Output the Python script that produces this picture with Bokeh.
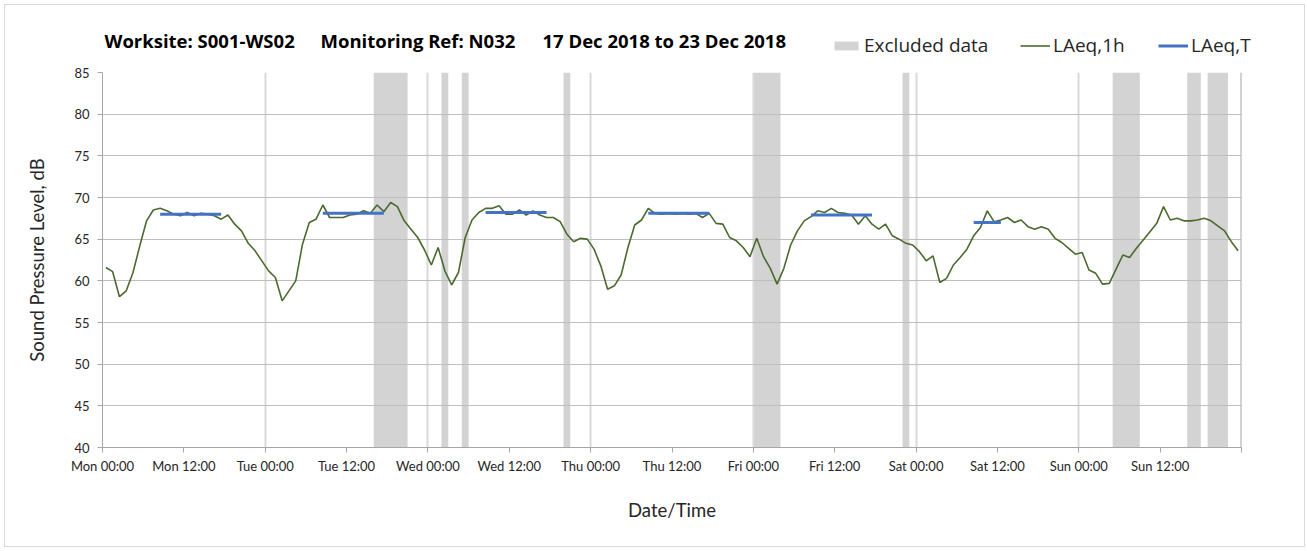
from bokeh.plotting import figure
from bokeh.layouts import column
from bokeh.models import (ColumnDataSource, FixedTicker, Legend, LegendItem,
                          Label, Span, Range1d)
from bokeh.embed import file_html
from bokeh.resources import INLINE

# ---------------- data ----------------
title_parts = ["Worksite: S001-WS02", "Monitoring Ref: N032",
               "17 Dec 2018 to 23 Dec 2018"]

# hourly LAeq,1h (dB); hour 0 = Mon 17 Dec 2018 00:00-01:00
laeq_mon = [61.6, 61.1, 58.1, 58.8, 61.0, 64.2, 67.2, 68.5, 68.7, 68.4, 68.0, 67.8,
            68.2, 67.8, 68.1, 68.0, 67.8, 67.4, 67.9, 66.8, 66.0, 64.5, 63.6, 62.4]
laeq_tue = [61.2, 60.4, 57.6, 58.8, 60.0, 64.4, 67.0, 67.4, 69.1, 67.6, 67.6, 67.6,
            67.9, 68.0, 68.4, 68.1, 69.1, 68.3, 69.4, 68.9, 67.2, 66.2, 65.2, 63.7]
laeq_wed = [61.9, 64.0, 61.2, 59.5, 61.0, 65.2, 67.3, 68.2, 68.7, 68.7, 69.0, 68.0,
            68.0, 68.5, 67.9, 68.4, 67.9, 67.6, 67.6, 67.1, 65.6, 64.7, 65.1, 65.0]
laeq_thu = [63.8, 61.8, 59.0, 59.4, 60.7, 64.0, 66.7, 67.3, 68.7, 68.1, 68.0, 68.1,
            68.0, 68.1, 68.0, 68.1, 67.6, 68.1, 66.9, 66.8, 65.2, 64.8, 64.0, 62.9]
laeq_fri = [65.1, 62.9, 61.5, 59.6, 61.5, 64.3, 66.0, 67.2, 67.7, 68.4, 68.2, 68.7,
            68.2, 68.1, 67.9, 66.8, 67.8, 66.8, 66.2, 66.8, 65.4, 65.0, 64.5, 64.3]
laeq_sat = [63.5, 62.4, 63.0, 59.8, 60.3, 61.9, 62.8, 63.8, 65.4, 66.4, 68.4, 67.1,
            67.3, 67.6, 67.0, 67.3, 66.5, 66.2, 66.5, 66.2, 65.1, 64.6, 63.9, 63.2]
laeq_sun = [63.4, 61.3, 60.9, 59.6, 59.7, 61.4, 63.1, 62.8, 63.9, 64.9, 65.9, 66.9,
            68.9, 67.3, 67.5, 67.2, 67.2, 67.3, 67.5, 67.2, 66.6, 66.0, 64.7, 63.6]

# excluded periods (hours from Mon 00:00)
excl_start_h = [40, 50, 53, 68, 96, 118, 149, 160, 163]
excl_end_h = [45, 51, 54, 69, 100, 119, 153, 162, 166]

# LAeq,T per day
period_days = ["Mon", "Tue", "Wed", "Thu", "Fri", "Sat"]
period_start_h = [8.5, 32.5, 56.5, 80.5, 104.5, 128.5]
period_end_h = [17.5, 41.5, 65.5, 89.5, 113.5, 132.5]
laeq_t = [68.0, 68.1, 68.2, 68.1, 67.9, 67.0]

legend_labels = ["Excluded data", "LAeq,1h", "LAeq,T"]

tick_hours = [0, 12, 24, 36, 48, 60, 72, 84, 96, 108, 120, 132, 144, 156, 168]
tick_labels = ["Mon 00:00", "Mon 12:00", "Tue 00:00", "Tue 12:00", "Wed 00:00",
               "Wed 12:00", "Thu 00:00", "Thu 12:00", "Fri 00:00", "Fri 12:00",
               "Sat 00:00", "Sat 12:00", "Sun 00:00", "Sun 12:00", ""]
day_bounds_h = [24, 48, 72, 96, 120, 144]
y_ticks = [40, 45, 50, 55, 60, 65, 70, 75, 80, 85]
y_min, y_max = 40, 85
x_min, x_max = 0, 168

# ---------------- styling constants ----------------
FONT = "Lato"
HFONT = "Open Sans"
TXT = "#262626"
C_EXCL = "#d3d3d3"
C_1H = "#4a6a2e"
C_T = "#4472c4"
ORG = 5                 # content origin inside the light outer border
W = 1299                # content width
HEAD_H = 55
NAN = float("nan")

# ---------------- main chart ----------------
laeq_1h = laeq_mon + laeq_tue + laeq_wed + laeq_thu + laeq_fri + laeq_sat + laeq_sun
hour_mid = [hr + 0.5 for hr in range(len(laeq_1h))]

p = figure(frame_width=1139, frame_height=375,
           x_range=Range1d(x_min, x_max), y_range=Range1d(y_min, y_max),
           output_backend="svg", toolbar_location=None,
           min_border_left=102 - ORG, min_border_right=W - (102 - ORG) - 1139,
           min_border_top=12, min_border_bottom=99)
p.outline_line_color = None
p.frame_align = False

excl_src = ColumnDataSource(dict(left=excl_start_h, right=excl_end_h,
                                 bottom=[y_min] * len(excl_start_h),
                                 top=[y_max] * len(excl_start_h)))
p.quad(left="left", right="right", bottom="bottom", top="top",
       source=excl_src, fill_color=C_EXCL, line_color=None, level="image")

line_src = ColumnDataSource(dict(x=hour_mid, y=laeq_1h))
p.line("x", "y", source=line_src, line_color=C_1H, line_width=1.6)

t_src = ColumnDataSource(dict(x0=period_start_h, x1=period_end_h,
                              y=laeq_t, day=period_days))
p.segment(x0="x0", y0="y", x1="x1", y1="y", source=t_src,
          line_color=C_T, line_width=3)

# grids
p.ygrid.ticker = FixedTicker(ticks=y_ticks)
p.ygrid.grid_line_color = "#bfbfbf"
p.ygrid.grid_line_width = 1
p.xgrid.ticker = FixedTicker(ticks=day_bounds_h)
p.xgrid.grid_line_color = "#d9d9d9"
p.xgrid.grid_line_width = 2

p.add_layout(Span(location=x_max, dimension="height", line_color="#a6a6a6",
                  line_width=2))

# axes
p.xaxis.ticker = FixedTicker(ticks=tick_hours)
p.xaxis.major_label_overrides = {hr: lab for hr, lab in zip(tick_hours, tick_labels)}
p.yaxis.ticker = FixedTicker(ticks=y_ticks)
for ax in (p.xaxis[0], p.yaxis[0]):
    ax.axis_line_color = "#a6a6a6"
    ax.major_tick_line_color = "#a6a6a6"
    ax.major_tick_out = 5
    ax.major_tick_in = 0
    ax.minor_tick_line_color = None
    ax.major_label_text_font = FONT
    ax.major_label_text_font_size = "13px"
    ax.major_label_text_color = TXT
    ax.axis_label_text_font = FONT
    ax.axis_label_text_font_size = "18.5px"
    ax.axis_label_text_font_style = "normal"
    ax.axis_label_text_color = TXT
p.xaxis.axis_label = "Date/Time"
p.yaxis.axis_label = "Sound Pressure Level, dB"
p.xaxis.major_label_standoff = 5
p.yaxis.major_label_standoff = 8
p.xaxis.axis_label_standoff = 22
p.yaxis.axis_label_standoff = 23

# ---------------- header (title + legend) ----------------
h = figure(width=W, height=HEAD_H,
           x_range=Range1d(ORG, ORG + W), y_range=Range1d(ORG + HEAD_H, ORG),
           output_backend="svg", toolbar_location=None,
           x_axis_type=None, y_axis_type=None,
           min_border_left=0, min_border_right=0, min_border_top=0,
           min_border_bottom=0)
h.outline_line_color = None
h.grid.visible = False
h.frame_align = False

for txt, xs in zip(title_parts, [104, 320, 542]):
    h.add_layout(Label(x=xs, y=40, text=txt, text_font=HFONT,
                       text_font_size="18.5px", text_font_style="bold",
                       text_color="black", text_align="left",
                       text_baseline="alphabetic"))

# legend swatches (renderers with no visible data, they only supply legend glyphs)
sw_excl = h.quad(left=[NAN], right=[NAN], top=[NAN], bottom=[NAN],
                 fill_color=C_EXCL, line_color=None)
sw_1h = h.line(x=[NAN], y=[NAN], line_color=C_1H, line_width=1.6)
sw_t = h.line(x=[NAN], y=[NAN], line_color=C_T, line_width=3)

for lab, rend, xs in zip(legend_labels, [sw_excl, sw_1h, sw_t], [831, 1020, 1158]):
    lg = Legend(items=[LegendItem(label=lab, renderers=[rend])],
                location=(xs - ORG, 2), orientation="horizontal",
                glyph_width=30, glyph_height=11, label_standoff=3,
                padding=0, margin=0, spacing=0,
                border_line_color=None, background_fill_alpha=0,
                label_text_font=HFONT, label_text_font_size="19px",
                label_text_color=TXT)
    h.add_layout(lg, "center")

layout = column(h, p, spacing=0,
                styles={"margin": "4px", "border": "1px solid #d9d9d9"})

open("out.html", "w").write(file_html(layout, INLINE))
